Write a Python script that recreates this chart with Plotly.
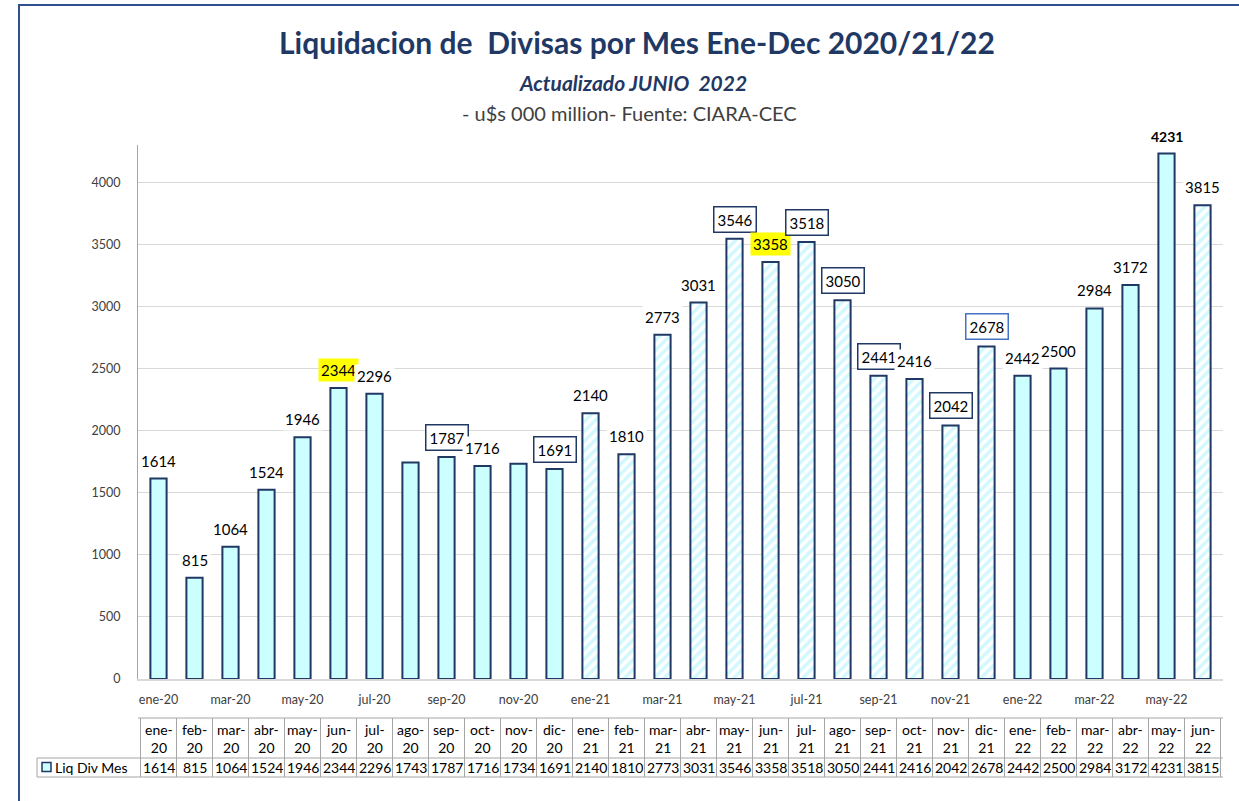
import plotly.graph_objects as go

# ---------------- data ----------------
months = ["ene-20", "feb-20", "mar-20", "abr-20", "may-20", "jun-20", "jul-20", "ago-20", "sep-20", "oct-20",
          "nov-20", "dic-20", "ene-21", "feb-21", "mar-21", "abr-21", "may-21", "jun-21", "jul-21", "ago-21",
          "sep-21", "oct-21", "nov-21", "dic-21", "ene-22", "feb-22", "mar-22", "abr-22", "may-22", "jun-22"]
values = [1614, 815, 1064, 1524, 1946, 2344, 2296, 1743, 1787, 1716,
          1734, 1691, 2140, 1810, 2773, 3031, 3546, 3358, 3518, 3050,
          2441, 2416, 2042, 2678, 2442, 2500, 2984, 3172, 4231, 3815]
hatched = [False] * 12 + [True] * 12 + [False] * 5 + [True]
boxed = ["sep-20", "dic-20", "may-21", "jul-21", "ago-21", "sep-21", "nov-21", "dic-21"]
highlighted = ["jun-20", "jun-21"]
bold_labels = ["may-22"]
unlabeled = ["ago-20", "nov-20"]
tick_months = months[::2]
y_ticks = [0, 500, 1000, 1500, 2000, 2500, 3000, 3500, 4000]
series_name = "Liq Div Mes"

title = "Liquidacion de  Divisas por Mes Ene-Dec 2020/21/22"
subtitle = "Actualizado JUNIO  2022"
source = "- u$s 000 million- Fuente: CIARA-CEC"

# ---------------- layout geometry ----------------
W, H = 1239, 801
L, R, T, B = 138, 1223, 145, 679
FONT = "Lato"
NAVY = "#1F3864"
CYAN = "#CCFFFF"
GRID = "#D9D9D9"
TBL = "#A6A6A6"


def py(p):
    return (B - p) / (B - T)


def px(p):
    return (p - L) / (R - L)


solid_x = [m for m, h in zip(months, hatched) if not h]
solid_y = [v for v, h in zip(values, hatched) if not h]
hatch_x = [m for m, h in zip(months, hatched) if h]
hatch_y = [v for v, h in zip(values, hatched) if h]

fig = go.Figure()
fig.add_trace(go.Bar(
    x=solid_x, y=solid_y, name=series_name, width=0.45,
    marker=dict(color=CYAN, line=dict(color=NAVY, width=2)),
    hoverinfo="x+y", showlegend=False,
))
fig.add_trace(go.Bar(
    x=hatch_x, y=hatch_y, name=series_name, width=0.45,
    marker=dict(color="#A6F2FF", line=dict(color=NAVY, width=2),
                pattern=dict(shape="/", fgcolor="#A6F2FF", bgcolor="white", size=7, solidity=0.5,
                             fillmode="overlay")),
    hoverinfo="x+y", showlegend=False,
))

annotations = []
for m, v in zip(months, values):
    if m in unlabeled:
        continue
    a = dict(x=m, y=v, xref="x", yref="y", text=str(v), showarrow=False,
             yanchor="bottom", yshift=6, font=dict(family=FONT, size=15, color="black"),
             bgcolor="white", borderpad=2)
    if m in boxed:
        a.update(bordercolor="#4472C4" if m == "dic-21" else NAVY, borderwidth=1.5, borderpad=3)
    if m in highlighted:
        a.update(bgcolor="#FFFF00")
    if m in bold_labels:
        a.update(text="<b>%d</b>" % v, font=dict(family=FONT, size=14, color="black"))
    annotations.append(a)

# titles
annotations += [
    dict(x=px(637), y=py(42), xref="paper", yref="paper", text="<b>%s</b>" % title, showarrow=False,
         font=dict(family=FONT, size=30, color=NAVY), xanchor="center", yanchor="middle"),
    dict(x=px(633), y=py(82), xref="paper", yref="paper", text="<b><i>%s</i></b>" % subtitle, showarrow=False,
         font=dict(family=FONT, size=21, color=NAVY), xanchor="center", yanchor="middle"),
    dict(x=px(629), y=py(113), xref="paper", yref="paper", text=source, showarrow=False,
         font=dict(family=FONT, size=20, color="#404040"), xanchor="center", yanchor="middle"),
]

# data table
shapes = []
t_top, t_mid, t_bot = 718, 758, 777
x_left = 37
shapes.append(dict(type="line", xref="paper", yref="paper", x0=px(L), x1=px(R), y0=py(t_top), y1=py(t_top),
                   line=dict(color=TBL, width=1)))
for yy in (t_mid, t_bot):
    shapes.append(dict(type="line", xref="paper", yref="paper", x0=px(x_left), x1=px(R), y0=py(yy), y1=py(yy),
                       line=dict(color=TBL, width=1)))
shapes.append(dict(type="line", xref="paper", yref="paper", x0=px(x_left), x1=px(x_left), y0=py(t_mid),
                   y1=py(t_bot), line=dict(color=TBL, width=1)))
for i in range(len(months) + 1):
    shapes.append(dict(type="line", xref="x", yref="paper", x0=i - 0.5, x1=i - 0.5, y0=py(t_top), y1=py(t_bot),
                       line=dict(color=TBL, width=1)))
for m, v in zip(months, values):
    mon, yr = m.split("-")
    annotations.append(dict(x=m, y=py((t_top + t_mid) / 2), xref="x", yref="paper", text="%s-<br>%s" % (mon, yr),
                            showarrow=False, font=dict(family=FONT, size=14, color="black"),
                            xanchor="center", yanchor="middle"))
    annotations.append(dict(x=m, y=py((t_mid + t_bot) / 2), xref="x", yref="paper", text=str(v),
                            showarrow=False, font=dict(family=FONT, size=14, color="black"),
                            xanchor="center", yanchor="middle"))
# legend key in the table
shapes.append(dict(type="rect", xref="paper", yref="paper", x0=px(42), x1=px(51), y0=py(771.5), y1=py(762.5),
                   fillcolor=CYAN, line=dict(color=NAVY, width=1.5)))
annotations.append(dict(x=px(53), y=py(767.5), xref="paper", yref="paper", text=series_name, showarrow=False,
                        font=dict(family=FONT, size=14, color="black"), xanchor="left", yanchor="middle"))

# outer border
shapes.append(dict(type="rect", xref="paper", yref="paper", x0=px(19), x1=px(W + 10), y0=py(5), y1=py(H + 10),
                   line=dict(color="#2F4F8F", width=2), fillcolor="rgba(0,0,0,0)"))

fig.update_layout(
    width=W, height=H,
    margin=dict(l=L, r=W - R, t=T, b=H - B),
    paper_bgcolor="white", plot_bgcolor="white",
    annotations=annotations, shapes=shapes,
    barmode="overlay",
    xaxis=dict(type="category", categoryorder="array", categoryarray=months,
               tickmode="array", tickvals=tick_months, ticktext=tick_months,
               tickfont=dict(family=FONT, size=12.5, color="#404040"), showgrid=False,
               showline=True, linecolor=GRID, linewidth=1.5, ticks="", ticklabelstandoff=8),
    yaxis=dict(range=[0, 4300], tickvals=y_ticks, tickfont=dict(family=FONT, size=12.5, color="#404040"),
               showgrid=True, gridcolor=GRID, gridwidth=1.3, showline=True, linecolor="#A6A6A6",
               linewidth=1, ticks="", ticklabelstandoff=14, zeroline=False),
)

fig.write_html("out.html", config={"displayModeBar": False},
               post_script="document.body.style.margin='0';document.body.style.overflow='hidden';")
